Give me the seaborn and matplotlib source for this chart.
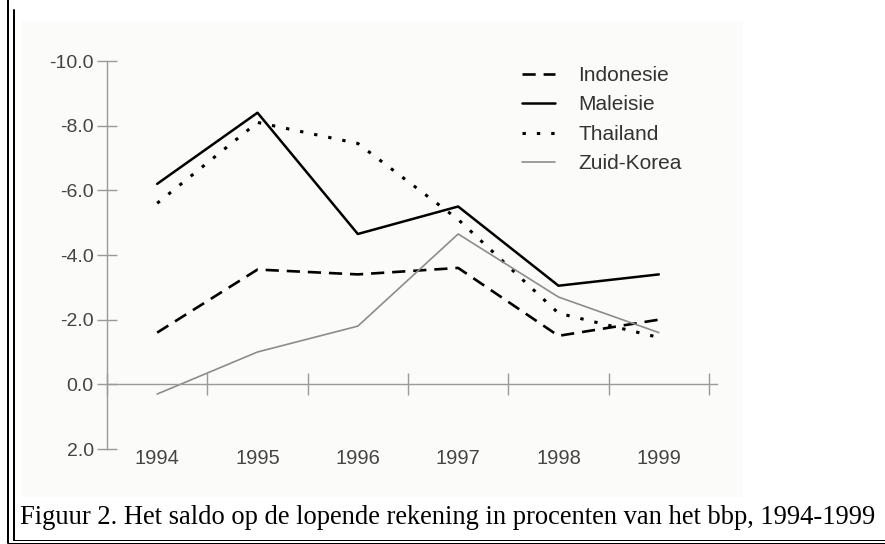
import pandas as pd
import matplotlib.pyplot as plt
import seaborn as sns
from matplotlib.patches import Rectangle
from matplotlib.lines import Line2D

# Saldo lopende rekening (% bbp)
years = [1994, 1995, 1996, 1997, 1998, 1999]
indonesie = [-1.6, -3.55, -3.4, -3.6, -1.5, -2.0]
maleisie = [-6.2, -8.4, -4.65, -5.5, -3.05, -3.4]
thailand = [-5.6, -8.1, -7.45, -5.1, -2.2, -1.45]
zuid_korea = [0.3, -1.0, -1.8, -4.65, -2.7, -1.6]
countries = ["Indonesie", "Maleisie", "Thailand", "Zuid-Korea"]
y_ticks = [-10, -8, -6, -4, -2, 0, 2]
caption = "Figuur 2. Het saldo op de lopende rekening in procenten van het bbp, 1994-1999"

df = pd.DataFrame({
    "jaar": years * 4,
    "saldo": indonesie + maleisie + thailand + zuid_korea,
    "land": [c for c in countries for _ in years],
})

sns.set_style("white")
plt.rcParams["font.family"] = ["Liberation Sans", "DejaVu Sans"]

W, H = 885, 544
fig = plt.figure(figsize=(W / 100, H / 100), dpi=100)

# light panel behind the chart
fig.patches.append(Rectangle((22 / W, 1 - 497 / H), (743 - 22) / W, (497 - 21) / H,
                             transform=fig.transFigure, facecolor="#fbfcf9",
                             edgecolor="none", zorder=-5))

ax = fig.add_axes([107 / W, 1 - 449 / H, (717 - 107) / W, (449 - 61) / H])
ax.set_facecolor("none")
ax.set_zorder(2)

palette = {"Indonesie": "black", "Maleisie": "black", "Thailand": "black", "Zuid-Korea": "#8c8c8c"}
sizes = {"Indonesie": 1.9, "Maleisie": 1.8, "Thailand": 2.2, "Zuid-Korea": 1.2}
dashes = {"Indonesie": (5, 3), "Maleisie": "", "Thailand": (1.1, 3.6), "Zuid-Korea": ""}

sns.lineplot(data=df, x="jaar", y="saldo", hue="land", size="land", style="land",
             palette=palette, sizes=sizes, dashes=dashes, ax=ax)

ax.set_xlim(1993.5, 1999.58)
ax.set_ylim(2, -10)
ax.set_xlabel("")
ax.set_ylabel("")

for s in ["top", "right"]:
    ax.spines[s].set_visible(False)
ax.spines["bottom"].set_position(("data", 0))
for s in ["left", "bottom"]:
    ax.spines[s].set_color("#9a9a9a")
    ax.spines[s].set_linewidth(1.0)

ax.set_yticks(y_ticks)
ax.set_yticklabels([f"{v:.1f}" for v in y_ticks])
ax.tick_params(axis="y", left=True, direction="inout", length=14, width=1,
               color="#9a9a9a", pad=2.5, labelsize=14, labelcolor="#444444")
ax.set_xticks([y - 0.5 for y in years] + [years[-1] + 0.5])
ax.tick_params(axis="x", bottom=True, direction="inout", length=16, width=1,
               color="#9a9a9a", labelbottom=False)

for yr in years:
    ax.text(yr, 2.28, str(yr), ha="center", va="center", fontsize=14.5,
            color="#444444", clip_on=False)

handles, labels = ax.get_legend_handles_labels()
keep = [(h, l) for h, l in zip(handles, labels) if l in countries]
ax.legend([h for h, _ in keep], [l for _, l in keep], loc="upper left",
          bbox_to_anchor=(522 / W, 1 - 66 / H), bbox_transform=fig.transFigure,
          frameon=False, fontsize=15, handlelength=1.6, handletextpad=1.1,
          labelspacing=0.5, borderpad=0, borderaxespad=0, labelcolor="#333333")

fig.text(20 / W, 1 - 518 / H, caption, ha="left", va="center", fontsize=19.1,
         family=["Liberation Serif", "DejaVu Serif"], color="black")

# page borders
for x0, y0, x1, y1, lw in [(8, 0, 8, 543, 2.0), (13.5, 10, 13.5, 540, 2.0),
                           (13, 539.5, 885, 539.5, 1.0), (8, 542.5, 885, 542.5, 1.0)]:
    fig.add_artist(Line2D([x0 / W, x1 / W], [1 - y0 / H, 1 - y1 / H],
                          transform=fig.transFigure, color="black", lw=lw * 0.72))

fig.savefig("out.png", dpi=100)
